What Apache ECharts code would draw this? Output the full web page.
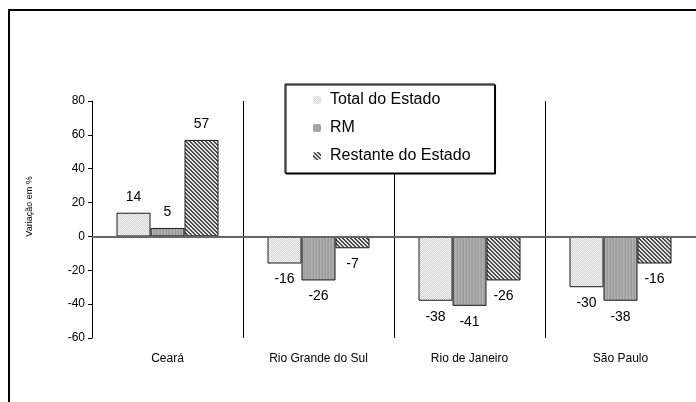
<!DOCTYPE html>
<html>
<head>
<meta charset="utf-8">
<script src="https://cdn.jsdelivr.net/npm/echarts@6/dist/echarts.min.js"></script>
<style>
  html, body { margin: 0; padding: 0; background: #fff; }
  #main { width: 696px; height: 402px; }
</style>
</head>
<body>
<div id="main"></div>
<script>
// dados (variação em %)
var categorias = ['Ceará', 'Rio Grande do Sul', 'Rio de Janeiro', 'São Paulo']
var nomesSeries = ['Total do Estado', 'RM', 'Restante do Estado']
var totalEstado = [14, -16, -38, -30]
var rm = [5, -26, -41, -38]
var restante = [57, -7, -26, -16]
var yTicks = { min: -60, max: 80, interval: 20 }

var fonte = "'Liberation Sans', Arial, sans-serif"

// texturas das barras (padrões em canvas)
function makePattern(w, h, fn) {
    var c = document.createElement('canvas')
    c.width = w
    c.height = h
    var ctx = c.getContext('2d')
    for (var x = 0; x < w; x++) {
        for (var y = 0; y < h; y++) {
            ctx.fillStyle = fn(x, y)
            ctx.fillRect(x, y, 1, 1)
        }
    }
    return { image: c, repeat: 'repeat' }
}
var padraoTotal = makePattern(2, 2, function (x, y) { return (x + y) % 2 == 0 ? '#f6f6f6' : '#d2d2d2' })
var padraoRM = makePattern(3, 1, function (x, y) { return ['#a4a4a4', '#9c9c9c', '#b2b2b2'][x] })
var padraoRestante = makePattern(4, 4, function (x, y) { return ((x - y + 8) % 4) < 2 ? '#4a4a4a' : '#e6e6e6' })
var padroes = [padraoTotal, padraoRM, padraoRestante]

function serie(nome, valores, idx) {
    var s = {
        name: nome,
        type: 'bar',
        barWidth: 34,
        barGap: '0%',
        itemStyle: { color: padroes[idx], borderColor: '#1a1a1a', borderWidth: 1 },
        label: { show: true, distance: 9, fontSize: 14, color: '#000', fontFamily: fonte },
        data: valores.map(function (v) {
            return { value: v, label: { position: v < 0 ? 'bottom' : 'top' } }
        })
    }
    if (idx == 0) {
        // linha do zero
        s.markLine = {
            silent: true,
            symbol: 'none',
            label: { show: false },
            lineStyle: { color: '#666', width: 2, type: 'solid' },
            data: [{ yAxis: 0 }]
        }
    }
    return s
}

var myChart = echarts.init(document.getElementById('main'))

var option = {
    animation: false,
    backgroundColor: '#fff',
    graphic: [{
        type: 'rect',
        silent: true,
        shape: { x: 9, y: 10, width: 720, height: 420 },
        style: { fill: 'none', stroke: '#000', lineWidth: 2 }
    }],
    legend: {
        orient: 'vertical',
        left: 285,
        top: 84,
        padding: [8, 24, 9, 28],
        itemGap: 12,
        itemWidth: 8,
        itemHeight: 8,
        backgroundColor: '#fff',
        borderColor: '#000',
        borderWidth: 1,
        shadowColor: '#000',
        shadowOffsetX: 1,
        shadowOffsetY: 1,
        shadowBlur: 0,
        itemStyle: { borderWidth: 0 },
        textStyle: { fontSize: 16, color: '#000', fontFamily: fonte, padding: [0, 0, 0, 4] },
        data: nomesSeries
    },
    grid: { left: 92, top: 101, width: 608, height: 237 },
    xAxis: {
        type: 'category',
        data: categorias,
        axisLine: { show: false, onZero: false },
        axisTick: { show: false },
        splitLine: { show: true, lineStyle: { color: '#000', width: 1 } },
        axisLabel: { margin: 15, fontSize: 12, color: '#000', fontFamily: fonte }
    },
    yAxis: {
        type: 'value',
        min: yTicks.min,
        max: yTicks.max,
        interval: yTicks.interval,
        name: 'Variação em %',
        nameLocation: 'middle',
        nameGap: 58,
        nameTextStyle: { fontSize: 9, color: '#000', fontFamily: fonte, padding: [0, 0, 0, 26] },
        axisLine: { show: true, lineStyle: { color: '#000', width: 1 } },
        axisTick: { show: true, length: 4, lineStyle: { color: '#000' } },
        splitLine: { show: false },
        axisLabel: { margin: 7, fontSize: 12, color: '#000', fontFamily: fonte }
    },
    series: [
        serie(nomesSeries[0], totalEstado, 0),
        serie(nomesSeries[1], rm, 1),
        serie(nomesSeries[2], restante, 2)
    ]
}

myChart.setOption(option)
</script>
</body>
</html>
